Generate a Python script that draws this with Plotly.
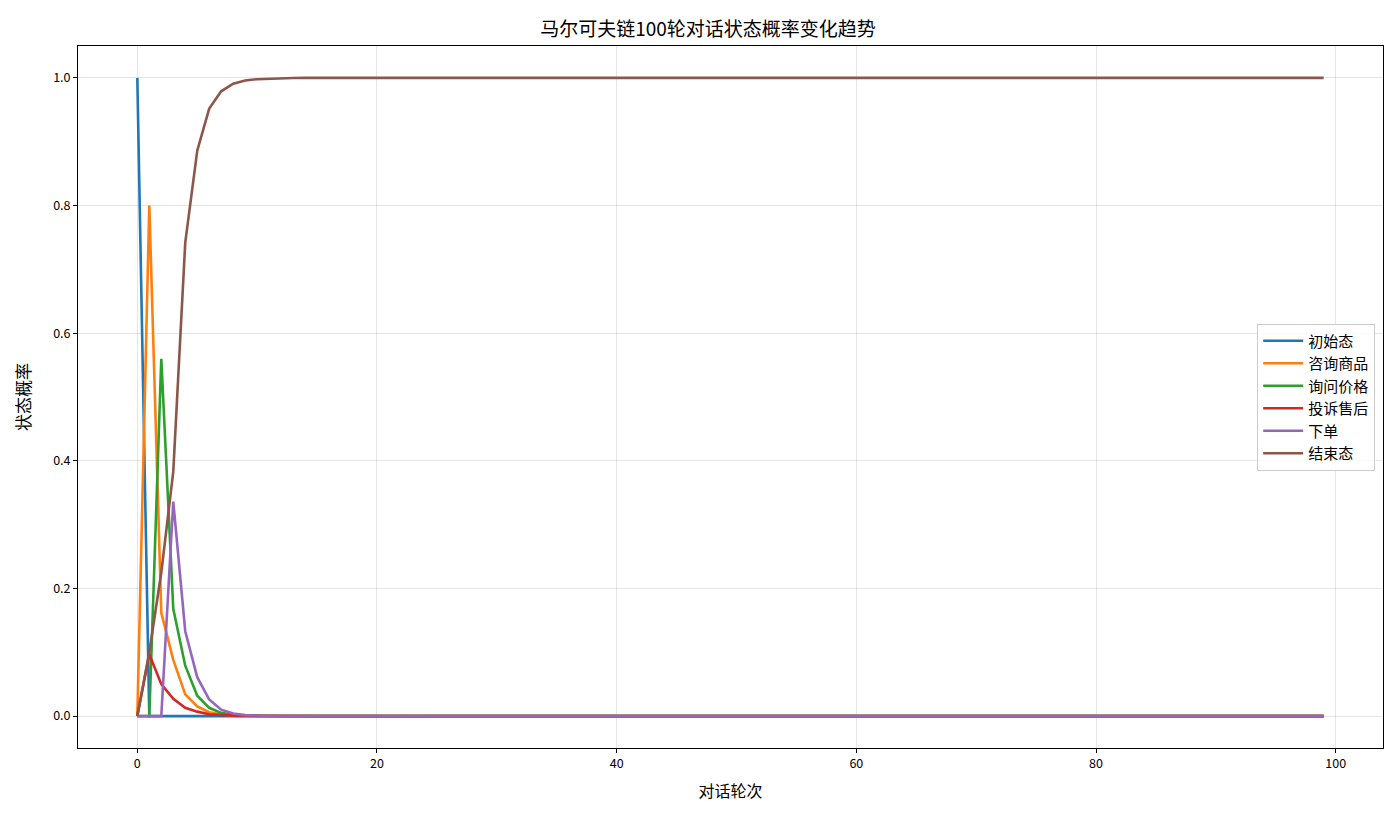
import plotly.graph_objects as go

FONT = "Noto Sans CJK SC"

rounds = list(range(100))
state_names = ["初始态", "咨询商品", "询问价格", "投诉售后", "下单", "结束态"]
colors = ["#1f77b4", "#ff7f0e", "#2ca02c", "#d62728", "#9467bd", "#8c564b"]

# values for the first rounds, flat afterwards
p_init = [1.0, 0.0, 0.0, 0.0, 0.0, 0.0, 0.0, 0.0, 0.0, 0.0, 0.0, 0.0, 0.0, 0.0] + [0.0] * 86
p_ask_item = [0.0, 0.8, 0.162, 0.088, 0.034, 0.015, 0.006, 0.0025, 0.001, 0.0004, 0.0002, 0.0001, 0.0, 0.0] + [0.0] * 86
p_ask_price = [0.0, 0.0, 0.56, 0.168, 0.079, 0.032, 0.013, 0.005, 0.002, 0.0008, 0.0003, 0.0001, 0.0, 0.0] + [0.0] * 86
p_complain = [0.0, 0.097, 0.05, 0.027, 0.013, 0.007, 0.003, 0.0015, 0.0007, 0.0003, 0.0001, 0.0, 0.0, 0.0] + [0.0] * 86
p_order = [0.0, 0.0, 0.0, 0.336, 0.133, 0.061, 0.026, 0.01, 0.004, 0.0015, 0.0006, 0.0002, 0.0001, 0.0] + [0.0] * 86
p_end = [0.0, 0.1, 0.225, 0.383, 0.742, 0.886, 0.952, 0.979, 0.991, 0.996, 0.998, 0.999, 0.9997, 0.9999] + [1.0] * 86

series = [p_init, p_ask_item, p_ask_price, p_complain, p_order, p_end]

fig = go.Figure()
for name, vals, c in zip(state_names, series, colors):
    fig.add_trace(go.Scatter(x=rounds, y=vals, mode="lines", name=name,
                             line=dict(color=c, width=2.6)))

axis_style = dict(
    showline=True, linecolor="black", linewidth=1, mirror=True,
    ticks="outside", ticklen=4, tickcolor="black",
    showgrid=True, gridcolor="rgba(0,0,0,0.1)", gridwidth=1,
    zeroline=False, tickfont=dict(family=FONT, size=12.5, color="black"),
)

fig.update_layout(
    width=1400, height=817,
    margin=dict(l=70, r=25, t=38, b=77),
    paper_bgcolor="white", plot_bgcolor="white",
    font=dict(family=FONT, color="black"),
    title=dict(text="马尔可夫链100轮对话状态概率变化趋势", x=0.5, xanchor="center",
               y=0.974, yanchor="middle", font=dict(family=FONT, size=19, color="black")),
    xaxis=dict(axis_style, range=[-4.95, 103.95], tickvals=[0, 20, 40, 60, 80, 100],
               title=dict(text="对话轮次", font=dict(family=FONT, size=16), standoff=14)),
    yaxis=dict(axis_style, range=[-0.05, 1.05], tickvals=[0, 0.2, 0.4, 0.6, 0.8, 1.0],
               tickformat=".1f",
               title=dict(text="状态概率", font=dict(family=FONT, size=17), standoff=18)),
    legend=dict(x=0.994, xanchor="right", y=0.5, yanchor="middle",
                bgcolor="rgba(255,255,255,0.8)", bordercolor="#cccccc", borderwidth=1,
                font=dict(family=FONT, size=15), itemwidth=40, tracegroupgap=0),
    showlegend=True,
)

fig.write_html("out.html")
